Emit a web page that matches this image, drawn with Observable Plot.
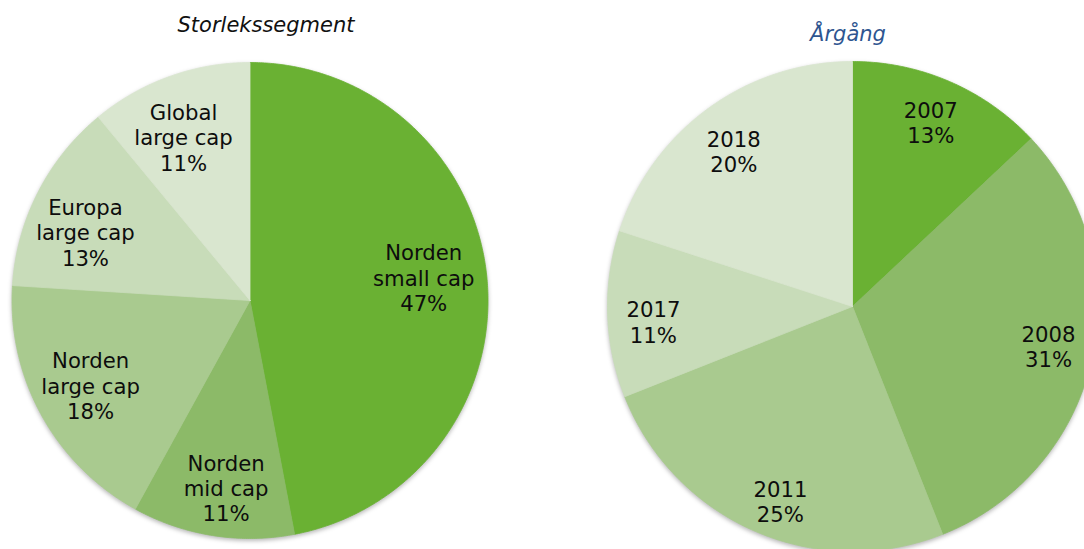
<!DOCTYPE html>
<html>
<head>
<meta charset="utf-8">
<script src="https://cdn.jsdelivr.net/npm/d3@7"></script>
<script src="https://cdn.jsdelivr.net/npm/@observablehq/plot@0.6"></script>
<style>
  html, body { margin: 0; padding: 0; background: #fff; overflow: hidden; }
</style>
</head>
<body>
<div id="chart"></div>
<script>
// ---- Data ----
const segmentTitle = "Storlekssegment";
const segmentLabels = ["Norden\nsmall cap", "Norden\nmid cap", "Norden\nlarge cap", "Europa\nlarge cap", "Global\nlarge cap"];
const segmentShares = [47, 11, 18, 13, 11];

const vintageTitle = "Årgång";
const vintageLabels = ["2007", "2008", "2011", "2017", "2018"];
const vintageShares = [13, 31, 25, 11, 20];

// ---- Style / layout ----
const greens = ["#6ab133", "#8cba68", "#a9ca8f", "#c8dcb9", "#d9e6cf"];
const W = 1084, H = 549;
// small pixel nudges of the data labels (layout only)
const segmentLabelNudge = [[-4, -6], [4, 11], [-3, -1], [-5.5, 12.6], [-6, 4.6]];
const vintageLabelNudge = [[-1.5, 0], [0, -4], [7.7, 10.4], [1.7, 9], [-0.7, 7.5]];
const pies = [
  {key: "seg", title: segmentTitle, titleColor: "#111", titleX: 265.5, titleY: 24.3, labels: segmentLabels, shares: segmentShares, nudge: segmentLabelNudge, cx: 249.5, cy: 300, r: 238, labelK: 0.75},
  {key: "vin", title: vintageTitle, titleColor: "#2e5590", titleX: 847.5, titleY: 33.3, labels: vintageLabels, shares: vintageShares, nudge: vintageLabelNudge, cx: 852, cy: 306, r: 245, labelK: 0.82}
];

const polys = [];
const labels = [];
const titles = [];
for (const p of pies) {
  const arcs = d3.pie().sort(null).startAngle(0).endAngle(2 * Math.PI)(p.shares);
  arcs.forEach((a, i) => {
    const key = p.key + i;
    const pt = (ang, rr) => ({key, rank: i, x: p.cx + rr * Math.sin(ang), y: p.cy - rr * Math.cos(ang)});
    polys.push(pt(0, 0));
    const n = Math.max(2, Math.ceil((a.endAngle - a.startAngle) / (Math.PI / 360)));
    for (let k = 0; k <= n; k++) polys.push(pt(a.startAngle + (a.endAngle - a.startAngle) * k / n, p.r));
    polys.push(pt(0, 0));
    const mid = (a.startAngle + a.endAngle) / 2;
    const lp = pt(mid, p.r * p.labelK);
    labels.push({x: lp.x + p.nudge[i][0], y: lp.y + p.nudge[i][1], text: `${p.labels[i]}\n${p.shares[i]}%`});
  });
  titles.push({x: p.titleX, y: p.titleY, text: p.title, color: p.titleColor});
}

const chart = Plot.plot({
  width: W,
  height: H,
  margin: 0,
  x: {domain: [0, W], range: [0, W], axis: null},
  y: {domain: [0, H], range: [0, H], axis: null},
  color: {type: "ordinal", domain: [0, 1, 2, 3, 4], range: greens},
  style: {background: "white", overflow: "hidden"},
  marks: [
    Plot.line(polys, {x: "x", y: "y", z: "key", fill: "rank", stroke: "rank", strokeWidth: 0.8, curve: "linear"}),
    Plot.text(labels, {x: "x", y: "y", text: "text", fontSize: 21.2, lineHeight: 1.2, fill: "#0d0d0d", fontFamily: "DejaVu Sans", textAnchor: "middle", lineAnchor: "middle"}),
    Plot.text(titles, {x: "x", y: "y", text: "text", fontSize: 21, fill: "color", fontStyle: "italic", fontFamily: "DejaVu Sans", textAnchor: "middle", lineAnchor: "middle"})
  ]
});
d3.select(chart).selectAll('g[aria-label="line"]').style("filter", "drop-shadow(0px 2px 2px rgba(0,0,0,0.28))");
document.getElementById("chart").appendChild(chart);
</script>
</body>
</html>
